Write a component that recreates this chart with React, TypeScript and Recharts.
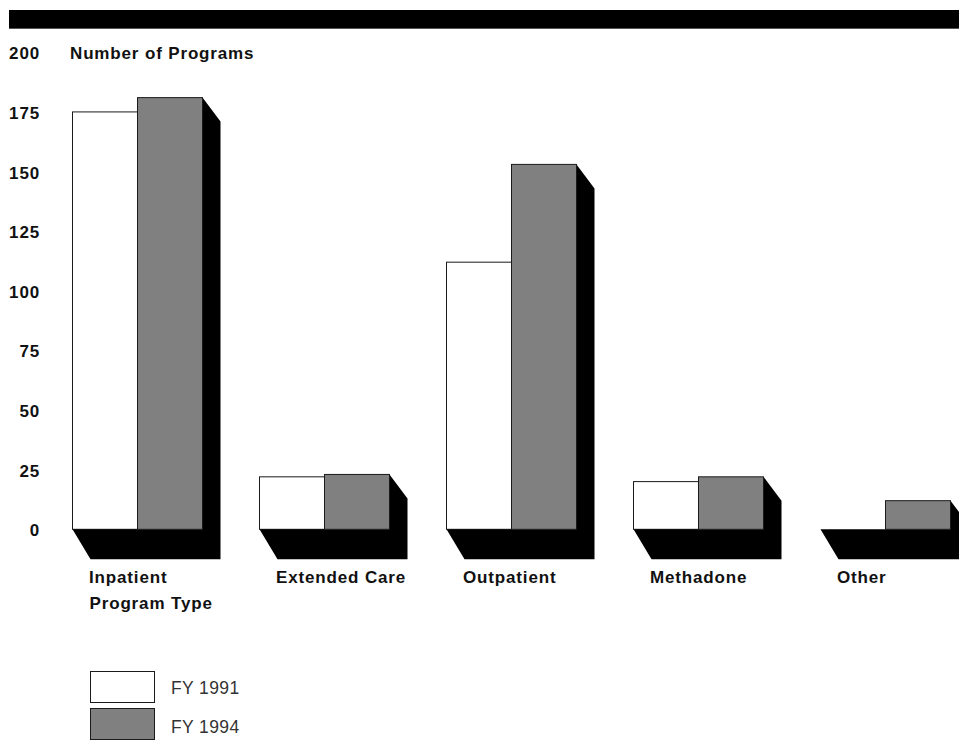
import { BarChart, Bar, XAxis, YAxis, Label } from "recharts"

const categories = ["Inpatient", "Extended Care", "Outpatient", "Methadone", "Other"]
const fy1991 = [175, 22, 112, 20, 0]
const fy1994 = [181, 23, 153, 22, 12]
const yTicks = [0, 25, 50, 75, 100, 125, 150, 175, 200]
const seriesKeys = ["fy1991", "fy1994"]
const seriesNames = ["FY 1991", "FY 1994"]
const seriesFills = ["#ffffff", "#808080"]

const data = categories.map((name, i) => ({ name, fy1991: fy1991[i], fy1994: fy1994[i] }))

const FONT = '"Liberation Sans", Arial, Helvetica, sans-serif'
// 3D extrusion of each bar pair: right side and floor
const DEPTH_X = 18
const DEPTH_TOP = 24
const DEPTH_FLOOR = 30

function FrontBar(props: any) {
  const { x, y, width, height, fill } = props
  if (!height || height <= 0) return <g />
  return <rect x={x} y={y} width={width} height={height} fill={fill} stroke="#1a1a1a" strokeWidth={1} />
}

// second bar of the pair also paints the black shadow for the whole group
function BackBar(props: any) {
  const { x, y, width, height, fill } = props
  const left = x - width
  const right = x + width
  const base = y + height
  const pts = [
    [left, base],
    [left + DEPTH_X, base + DEPTH_FLOOR],
    [right + DEPTH_X, base + DEPTH_FLOOR],
    [right + DEPTH_X, y + DEPTH_TOP],
    [right, y],
    [right, base],
  ]
    .map((p) => p.join(","))
    .join(" ")
  return (
    <g>
      <polygon points={pts} fill="#000" />
      {height > 0 && <rect x={x} y={y} width={width} height={height} fill={fill} stroke="#1a1a1a" strokeWidth={1} />}
    </g>
  )
}

const boldText = { fontFamily: FONT, fontWeight: 700, fontSize: 17, letterSpacing: 0.85, fill: "#111" }

function YTick(props: any) {
  const { x, y, payload } = props
  return (
    <text x={x - 3.5} y={y + 1.5} textAnchor="end" dominantBaseline="central" style={boldText}>
      {payload.value}
    </text>
  )
}

function XTick(props: any) {
  const { x, y, payload } = props
  return (
    <text x={x - 48} y={y + 48} dominantBaseline="central" style={boldText}>
      {payload.value}
    </text>
  )
}

export default function App() {
  return (
    <div
      style={{
        position: "absolute",
        left: 0,
        top: 0,
        width: 959,
        height: 740,
        overflow: "hidden",
        background: "#fff",
      }}
    >
      {/* header band */}
      <div
        style={{
          position: "absolute",
          left: 9,
          top: 10,
          width: 950,
          height: 18,
          background: "#000",
          borderBottom: "1px solid #555",
        }}
      />

      <BarChart
        width={1000}
        height={740}
        data={data}
        margin={{ top: 52.3, right: 21.5, left: 0, bottom: 110.7 }}
        barCategoryGap={28.5}
        barGap={0}
        barSize={65}
      >
        <YAxis
          type="number"
          domain={[0, 200]}
          ticks={yTicks}
          width={43.5}
          axisLine={false}
          tickLine={false}
          tickSize={0}
          tickMargin={0}
          tick={<YTick />}
          interval={0}
        >
          <Label
            content={(p: any) => (
              <text x={70} y={p.viewBox.y + 1} dominantBaseline="central" style={boldText}>
                Number of Programs
              </text>
            )}
          />
        </YAxis>
        <XAxis
          dataKey="name"
          height={100}
          axisLine={false}
          tickLine={false}
          tickSize={0}
          tickMargin={0}
          interval={0}
          tick={<XTick />}
        >
          <Label
            content={(p: any) => (
              <text x={p.viewBox.x + 46} y={p.viewBox.y + 74} dominantBaseline="central" style={boldText}>
                Program Type
              </text>
            )}
          />
        </XAxis>
        <Bar dataKey={seriesKeys[0]} name={seriesNames[0]} fill={seriesFills[0]} shape={<FrontBar />} isAnimationActive={false} />
        <Bar dataKey={seriesKeys[1]} name={seriesNames[1]} fill={seriesFills[1]} shape={<BackBar />} isAnimationActive={false} />
      </BarChart>

      {/* legend */}
      {seriesNames.map((name, i) => (
        <div key={name}>
          <div
            style={{
              position: "absolute",
              left: 90,
              top: 671 + i * 37,
              width: 63,
              height: 30,
              background: seriesFills[i],
              border: "1px solid #1a1a1a",
            }}
          />
          <div
            style={{
              position: "absolute",
              left: 171,
              top: 677 + i * 38.5,
              fontFamily: FONT,
              fontSize: 17.5,
              letterSpacing: 0.4,
              lineHeight: "22px",
              color: "#333",
            }}
          >
            {name}
          </div>
        </div>
      ))}
    </div>
  )
}
